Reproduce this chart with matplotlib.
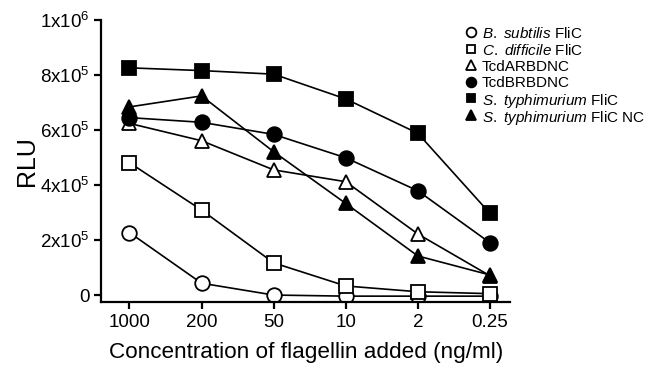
import matplotlib.pyplot as plt
from matplotlib.lines import Line2D

plt.rcParams['font.family'] = ['Liberation Sans', 'DejaVu Sans']
plt.rcParams['mathtext.fontset'] = 'custom'
plt.rcParams['mathtext.rm'] = 'Liberation Sans'
plt.rcParams['mathtext.it'] = 'Liberation Sans:italic'

conc_labels = ["1000", "200", "50", "10", "2", "0.25"]

b_subtilis = [0.227e6, 0.043e6, 0.0, -0.004e6, -0.004e6, -0.004e6]
c_difficile = [0.481e6, 0.309e6, 0.117e6, 0.033e6, 0.012e6, 0.005e6]
tcda = [0.624e6, 0.561e6, 0.455e6, 0.412e6, 0.222e6, 0.070e6]
tcdb = [0.645e6, 0.628e6, 0.584e6, 0.499e6, 0.379e6, 0.190e6]
s_typh = [0.826e6, 0.816e6, 0.803e6, 0.713e6, 0.588e6, 0.297e6]
s_typh_nc = [0.684e6, 0.724e6, 0.521e6, 0.333e6, 0.142e6, 0.073e6]

series = [
    (b_subtilis, 'o', 'white', r'$\it{B.\ subtilis}$ FliC'),
    (c_difficile, 's', 'white', r'$\it{C.\ difficile}$ FliC'),
    (tcda, '^', 'white', 'TcdARBDNC'),
    (tcdb, 'o', 'black', 'TcdBRBDNC'),
    (s_typh, 's', 'black', r'$\it{S.\ typhimurium}$ FliC'),
    (s_typh_nc, '^', 'black', r'$\it{S.\ typhimurium}$ FliC NC'),
]

fig = plt.figure(figsize=(6.54, 3.70), dpi=100)
ax = fig.add_axes([0.155, 0.184, 0.625, 0.762])

x = list(range(len(conc_labels)))
for vals, mk, fc, lab in series:
    ms = 9.5 if mk == 's' else 10.5
    ax.plot(x, vals, color='black', lw=1.2, marker=mk, markersize=ms,
            markerfacecolor=fc, markeredgecolor='black', markeredgewidth=1.3)

# legend drawn by hand so rows are evenly spaced
leg_x = 471 / 654
leg_y = 1 - 32 / 370
step = 16.6 / 370
for i, (vals, mk, fc, lab) in enumerate(series):
    yy = leg_y - i * step
    fig.add_artist(Line2D([leg_x], [yy], ls='none', marker=mk,
                          markersize=6 if mk == 's' else 7,
                          markerfacecolor=fc, markeredgecolor='black',
                          markeredgewidth=1.3, transform=fig.transFigure))
    fig.text(leg_x + 11 / 654, yy, lab, fontsize=11, va='center_baseline',
             ha='left')

ax.set_xlim(-0.39, 5.28)
ax.set_ylim(-0.025e6, 1e6)
ax.set_xticks(x)
ax.set_xticklabels(conc_labels, fontsize=13.5)
ax.set_yticks([0, 2e5, 4e5, 6e5, 8e5, 1e6])
ax.set_yticklabels(['0', r'2x10$^5$', r'4x10$^5$', r'6x10$^5$', r'8x10$^5$', r'1x10$^6$'],
                   fontsize=13.5)
ax.spines['top'].set_visible(False)
ax.spines['right'].set_visible(False)
for s in ['left', 'bottom']:
    ax.spines[s].set_linewidth(1.6)
ax.tick_params(width=1.6, length=5)

ax.set_ylabel('RLU', fontsize=18, labelpad=1)
ax.set_xlabel('Concentration of flagellin added (ng/ml)', fontsize=16.2, labelpad=8)

fig.savefig('out.png', dpi=100)
